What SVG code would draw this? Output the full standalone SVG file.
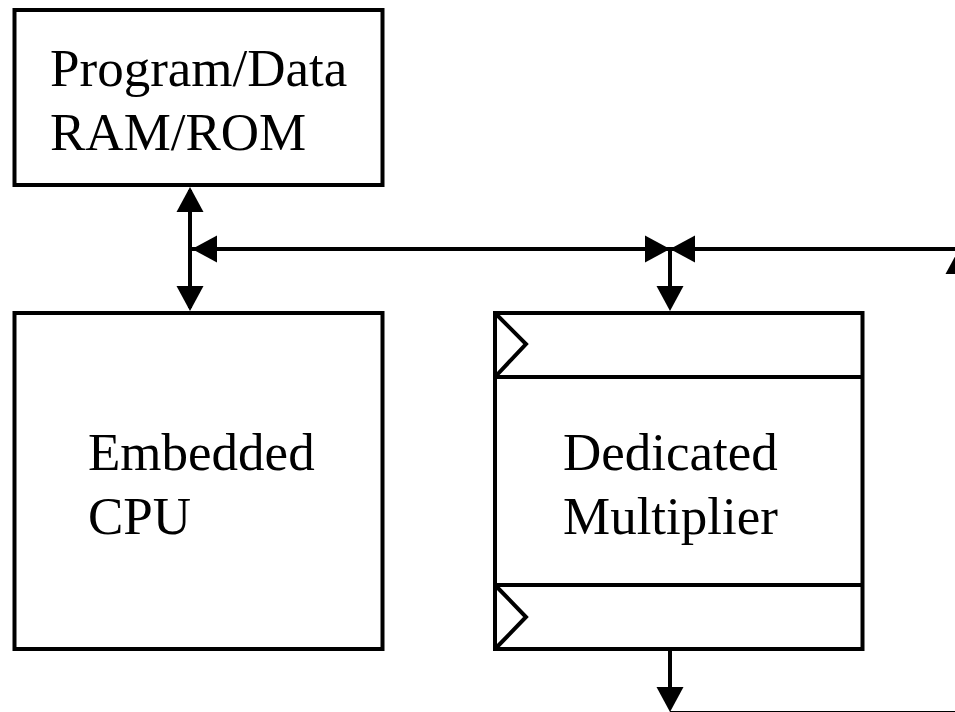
<svg xmlns="http://www.w3.org/2000/svg" width="955" height="712" viewBox="0 0 955 712">
  <style>
    .box { fill: #fff; stroke: #000; stroke-width: 4; }
    .wire { fill: none; stroke: #000; stroke-width: 4; }
    .head { fill: #000; stroke: none; }
    .lbl { font-family: "Liberation Serif", "Times New Roman", serif; font-size: 53px; fill: #000; }
  </style>
  <defs>
    <!-- filled arrowhead pointing right, tip at origin -->
    <path id="ah" d="M0,0 L-25,-13.5 L-25,13.5 Z"/>
  </defs>

  <g id="memory">
    <rect class="box" x="14.5" y="10" width="368" height="175"/>
    <text class="lbl" x="50" y="86">Program/Data</text>
    <text class="lbl" x="50" y="150">RAM/ROM</text>
  </g>

  <g id="cpu">
    <rect class="box" x="14.5" y="313" width="368" height="336"/>
    <text class="lbl" x="88" y="470">Embedded</text>
    <text class="lbl" x="88" y="534">CPU</text>
  </g>

  <g id="multiplier">
    <rect class="box" x="495" y="313" width="367.5" height="336"/>
    <line class="wire" x1="495" y1="377" x2="862.5" y2="377"/>
    <line class="wire" x1="495" y1="585" x2="862.5" y2="585"/>
    <polyline class="wire" points="495,313 526,344 495,377"/>
    <polyline class="wire" points="495,585 526,617 495,649"/>
    <text class="lbl" x="563" y="470">Dedicated</text>
    <text class="lbl" x="563" y="534">Multiplier</text>
  </g>

  <g id="connectors">
    <!-- memory to cpu, bidirectional -->
    <line class="wire" x1="190" y1="190" x2="190" y2="308"/>
    <use href="#ah" class="head" transform="translate(190,187) rotate(-90)"/>
    <use href="#ah" class="head" transform="translate(190,311) rotate(90)"/>
    <!-- shared bus -->
    <line class="wire" x1="190" y1="249" x2="960" y2="249"/>
    <use href="#ah" class="head" transform="translate(192,249) rotate(180)"/>
    <use href="#ah" class="head" transform="translate(670,249)"/>
    <use href="#ah" class="head" transform="translate(670,249) rotate(180)"/>
    <use href="#ah" class="head" transform="translate(959,249) rotate(-90)"/>
    <line class="wire" x1="959" y1="249" x2="959" y2="712"/>
    <!-- bus to multiplier input -->
    <line class="wire" x1="670" y1="249" x2="670" y2="306"/>
    <use href="#ah" class="head" transform="translate(670,311) rotate(90)"/>
    <!-- multiplier output -->
    <line class="wire" x1="670" y1="651" x2="670" y2="706"/>
    <use href="#ah" class="head" transform="translate(670,712) rotate(90)"/>
    <line class="wire" x1="670" y1="713" x2="960" y2="713"/>
  </g>
</svg>
